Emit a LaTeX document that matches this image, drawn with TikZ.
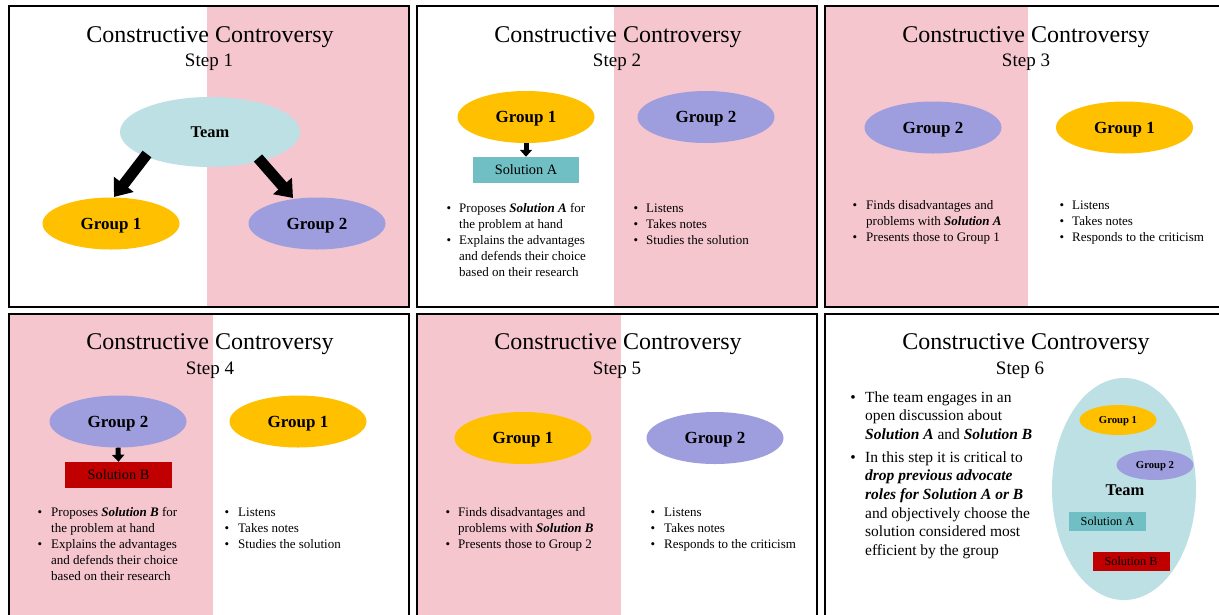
\documentclass[tikz,border=0pt]{standalone}
\usepackage{fontspec}
\setmainfont{Liberation Serif}
\usetikzlibrary{shapes.geometric,arrows.meta}
\definecolor{pinkbg}{HTML}{F6C6CF}
\definecolor{teamc}{HTML}{BCE0E3}
\definecolor{gone}{HTML}{FFC000}
\definecolor{gtwo}{HTML}{9E9EDF}
\definecolor{sola}{HTML}{70BFC4}
\definecolor{solb}{HTML}{C00000}
\tikzset{
  panel/.style={draw=black,line width=2pt},
  ttl/.style={anchor=base,font=\fontsize{24}{28}\selectfont,inner sep=0pt},
  stp/.style={anchor=base,font=\fontsize{19}{22}\selectfont,inner sep=0pt},
  grp/.style={ellipse,draw=none,minimum width=137pt,minimum height=52pt,inner sep=0pt,text depth=0pt,font=\fontsize{17}{20}\selectfont\bfseries},
  gonestyle/.style={grp,fill=gone},
  gtwostyle/.style={grp,fill=gtwo},
  smallgrp/.style={ellipse,draw=none,minimum width=77pt,minimum height=30pt,inner sep=0pt,text depth=0pt,font=\fontsize{10.7}{12}\selectfont\bfseries},
  solbox/.style={draw=none,minimum width=106pt,minimum height=26pt,inner sep=0pt,font=\fontsize{14.3}{16}\selectfont},
  smallsol/.style={draw=none,minimum width=77pt,minimum height=19pt,inner sep=0pt,font=\fontsize{12.3}{14}\selectfont},
  bul/.style={anchor=base,inner sep=0pt,font=\fontsize{13}{16}\selectfont},
  btxt/.style={anchor=base west,inner sep=0pt,font=\fontsize{13}{16}\selectfont},
  bulL/.style={anchor=base,inner sep=0pt,font=\fontsize{15.5}{18.7}\selectfont},
  btxtL/.style={anchor=base west,inner sep=0pt,font=\fontsize{15.5}{18.7}\selectfont},
  bigarrow/.style={line width=11pt,-{Triangle[width=24pt,length=16pt]}},
  smallarrow/.style={line width=5pt,-{Triangle[width=12pt,length=7pt]}},
}
\newcommand{\bi}[1]{\textbf{\textit{#1}}}
\newcommand{\ls}[1]{\begin{tabular}[t]{@{}l@{}}#1\end{tabular}}
\begin{document}
\begin{tikzpicture}[x=1pt,y=-1pt]
\useasboundingbox (0,0) rectangle (1219,614);
\clip (0,0) rectangle (1219,614);
\fill[white] (0,0) rectangle (1219,614);
% pink halves
\fill[pinkbg] (207,6) rectangle (409,307);
\fill[pinkbg] (614,6) rectangle (817,307);
\fill[pinkbg] (825,6) rectangle (1028,307);
\fill[pinkbg] (9,314) rectangle (213,630);
\fill[pinkbg] (417,314) rectangle (621,630);
% panels
\draw[panel] (9,6) rectangle (409,307);
\draw[panel] (417,6) rectangle (817,307);
\draw[panel] (825,6) rectangle (1225,307);
\draw[panel] (9,314) rectangle (409,630);
\draw[panel] (417,314) rectangle (817,630);
\draw[panel] (825,314) rectangle (1225,630);
% titles
\node[ttl] (t1) at (210,42) {Constructive Controversy};
\node[stp] (s1) at (209,66) {Step 1};
\node[ttl] (t2) at (618,42) {Constructive Controversy};
\node[stp] (s2) at (617,66) {Step 2};
\node[ttl] (t3) at (1026,42) {Constructive Controversy};
\node[stp] (s3) at (1026,66) {Step 3};
\node[ttl] (t4) at (210,349) {Constructive Controversy};
\node[stp] (s4) at (210,374) {Step 4};
\node[ttl] (t5) at (618,349) {Constructive Controversy};
\node[stp] (s5) at (617,374) {Step 5};
\node[ttl] (t6) at (1026,349) {Constructive Controversy};
\node[stp] (s6) at (1020,374) {Step 6};
% ---- Panel 1
\node[grp,fill=teamc,minimum width=180pt,minimum height=70pt,font=\fontsize{16.4}{19}\selectfont\bfseries] (team1) at (210,132) {Team};
\node[gonestyle] (p1g1) at (111,223.5) {Group 1};
\node[gtwostyle] (p1g2) at (317,223.5) {Group 2};
\coordinate (a1s) at (147,154);
\coordinate (a1e) at (114,197);
\coordinate (a2s) at (258,158);
\coordinate (a2e) at (293,198);
\draw[bigarrow] (a1s) -- (a1e);
\draw[bigarrow] (a2s) -- (a2e);
% ---- Panel 2
\node[gonestyle] (p2g1) at (526,117) {Group 1};
\node[gtwostyle] (p2g2) at (706,117) {Group 2};
\node[solbox,fill=sola] (p2sa) at (526,170) {Solution A};
\draw[smallarrow] (p2g1.south) -- (p2sa.north);
\node[bul] (p2b1) at (449,212) {•};
\node[btxt] (p2t1) at (459,212) {\ls{Proposes \bi{Solution A} for\\the problem at hand}};
\node[bul] (p2b2) at (449,244) {•};
\node[btxt] (p2t2) at (459,244) {\ls{Explains the advantages\\and defends their choice\\based on their research}};
\node[bul] (p2b3) at (636,212) {•};
\node[btxt] (p2t3) at (646,212) {Listens};
\node[bul] (p2b4) at (636,228) {•};
\node[btxt] (p2t4) at (646,228) {Takes notes};
\node[bul] (p2b5) at (636,244) {•};
\node[btxt] (p2t5) at (646,244) {Studies the solution};
% ---- Panel 3
\node[gtwostyle] (p3g2) at (933,127.5) {Group 2};
\node[gonestyle] (p3g1) at (1124.5,127.5) {Group 1};
\node[bul] (p3b1) at (855,209) {•};
\node[btxt] (p3t1) at (866,209) {\ls{Finds disadvantages and\\problems with \bi{Solution A}}};
\node[bul] (p3b2) at (855,241) {•};
\node[btxt] (p3t2) at (866,241) {Presents those to Group 1};
\node[bul] (p3b3) at (1062,209) {•};
\node[btxt] (p3t3) at (1072,209) {Listens};
\node[bul] (p3b4) at (1062,225) {•};
\node[btxt] (p3t4) at (1072,225) {Takes notes};
\node[bul] (p3b5) at (1062,241) {•};
\node[btxt] (p3t5) at (1072,241) {Responds to the criticism};
% ---- Panel 4
\node[gtwostyle] (p4g2) at (118,421.5) {Group 2};
\node[gonestyle] (p4g1) at (298,421.5) {Group 1};
\node[solbox,fill=solb,minimum width=107pt] (p4sb) at (118.5,475) {Solution B};
\draw[smallarrow] (p4g2.south) -- (p4sb.north);
\node[bul] (p4b1) at (40,516) {•};
\node[btxt] (p4t1) at (51,516) {\ls{Proposes \bi{Solution B} for\\the problem at hand}};
\node[bul] (p4b2) at (40,548) {•};
\node[btxt] (p4t2) at (51,548) {\ls{Explains the advantages\\and defends their choice\\based on their research}};
\node[bul] (p4b3) at (227,516) {•};
\node[btxt] (p4t3) at (238,516) {Listens};
\node[bul] (p4b4) at (227,532) {•};
\node[btxt] (p4t4) at (238,532) {Takes notes};
\node[bul] (p4b5) at (227,548) {•};
\node[btxt] (p4t5) at (238,548) {Studies the solution};
% ---- Panel 5
\node[gonestyle] (p5g1) at (523,438) {Group 1};
\node[gtwostyle] (p5g2) at (715,438) {Group 2};
\node[bul] (p5b1) at (448,516) {•};
\node[btxt] (p5t1) at (458,516) {\ls{Finds disadvantages and\\problems with \bi{Solution B}}};
\node[bul] (p5b2) at (448,548) {•};
\node[btxt] (p5t2) at (458,548) {Presents those to Group 2};
\node[bul] (p5b3) at (653,516) {•};
\node[btxt] (p5t3) at (664,516) {Listens};
\node[bul] (p5b4) at (653,532) {•};
\node[btxt] (p5t4) at (664,532) {Takes notes};
\node[bul] (p5b5) at (653,548) {•};
\node[btxt] (p5t5) at (664,548) {Responds to the criticism};
% ---- Panel 6
\node[ellipse,fill=teamc,draw=none,minimum width=144pt,minimum height=222pt,inner sep=0pt] (p6team) at (1124,489) {};
\node[inner sep=0pt,font=\fontsize{16.4}{19}\selectfont\bfseries] (p6tl) at (1125,490) {Team};
\node[smallgrp,fill=gone] (p6g1) at (1118,420) {Group 1};
\node[smallgrp,fill=gtwo] (p6g2) at (1155,465) {Group 2};
\node[smallsol,fill=sola] (p6sa) at (1107.5,521.5) {Solution A};
\node[smallsol,fill=solb] (p6sb) at (1131,561.5) {Solution B};
\node[bulL] (p6b1) at (853,402) {•};
\node[btxtL] (p6t1) at (865,402) {\ls{The team engages in an\\open discussion about\\\bi{Solution A} and \bi{Solution B}}};
\node[bulL] (p6b2) at (853,462) {•};
\node[btxtL] (p6t2) at (865,462) {\ls{In this step it is critical to\\\bi{drop previous advocate}\\\bi{roles for Solution A or B}\\and objectively choose the\\solution considered most\\efficient by the group}};
\end{tikzpicture}
\end{document}
